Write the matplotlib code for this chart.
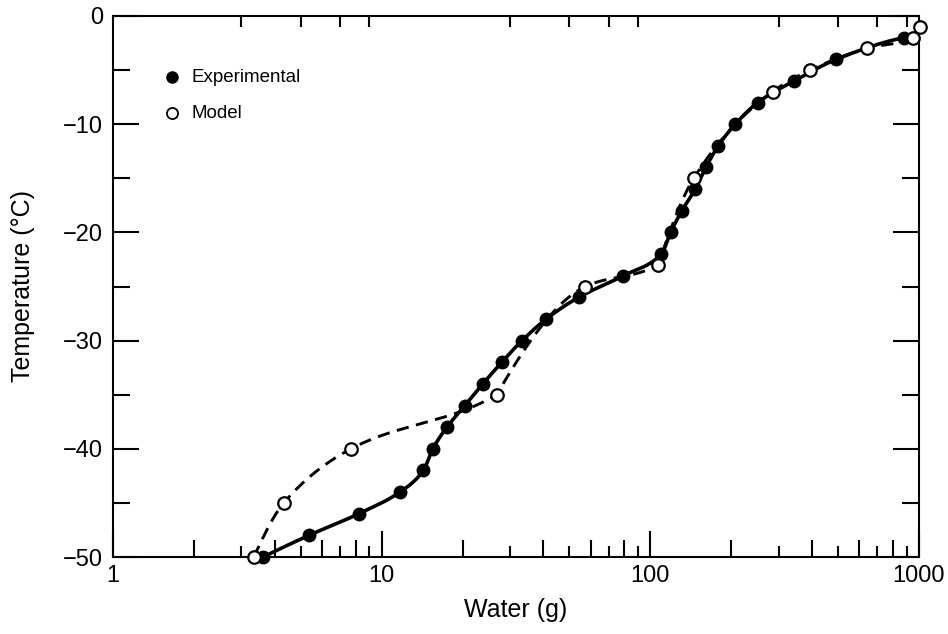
import numpy as np
import matplotlib
matplotlib.use("Agg")
import matplotlib.pyplot as plt
from matplotlib.ticker import FixedLocator, NullFormatter, FixedFormatter

# ---- data ----
exp_water = [3.62, 5.36, 8.23, 11.7, 14.3, 15.5, 17.5, 20.4, 23.8, 28.0, 33.3, 41.0,
             54.1, 79.4, 110, 119, 131, 147, 161, 179, 207, 251, 343, 493, 877]
exp_temp = [-50, -48, -46, -44, -42, -40, -38, -36, -34, -32, -30, -28,
            -26, -24, -22, -20, -18, -16, -14, -12, -10, -8, -6, -4, -2]
mod_water = [3.34, 4.32, 7.69, 26.8, 57.3, 106.7, 145, 285, 393, 638, 952, 1006]
mod_temp = [-50, -45, -40, -35, -25, -23, -15, -7, -5, -3, -2, -1]
mod_corners = [3, 5]   # indices where the dashed model curve bends sharply

x_ticks = [1, 10, 100, 1000]
x_ticklabels = ["1", "10", "100", "1000"]
y_ticks = [0, -10, -20, -30, -40, -50]
y_ticklabels = ["0", "\u221210", "\u221220", "\u221230", "\u221240", "\u221250"]


def _end_slope(h0, h1, d0, d1):
    mm = ((2 * h0 + h1) * d0 - h0 * d1) / (h0 + h1)
    if np.sign(mm) != np.sign(d0):
        mm = 0
    elif np.sign(d0) != np.sign(d1) and abs(mm) > abs(3 * d0):
        mm = 3 * d0
    return mm


def pchip_slopes(x, y):
    h = np.diff(x); d = np.diff(y) / h
    n = len(x)
    m = np.zeros(n)
    for k in range(1, n - 1):
        if d[k - 1] * d[k] <= 0:
            m[k] = 0
        else:
            w1 = 2 * h[k] + h[k - 1]; w2 = h[k] + 2 * h[k - 1]
            m[k] = (w1 + w2) / (w1 / d[k - 1] + w2 / d[k])
    m[0] = _end_slope(h[0], h[1], d[0], d[1])
    m[-1] = _end_slope(h[-1], h[-2], d[-1], d[-2])
    return m, h, d


def hermite_curve(x, y, corners=(), npts=800):
    x = np.asarray(x, float); y = np.asarray(y, float)
    m, h, d = pchip_slopes(x, y)
    mL = m.copy(); mR = m.copy()
    for k in corners:
        if k + 2 < len(x):
            mR[k] = _end_slope(h[k], h[k + 1], d[k], d[k + 1])
    xn = np.linspace(x[0], x[-1], npts)
    idx = np.clip(np.searchsorted(x, xn) - 1, 0, len(x) - 2)
    t = (xn - x[idx]) / h[idx]
    h00 = 2 * t**3 - 3 * t**2 + 1; h10 = t**3 - 2 * t**2 + t
    h01 = -2 * t**3 + 3 * t**2; h11 = t**3 - t**2
    yn = h00 * y[idx] + h10 * h[idx] * mR[idx] + h01 * y[idx + 1] + h11 * h[idx] * mL[idx + 1]
    return xn, yn


plt.rcParams['font.family'] = ['Liberation Sans', 'DejaVu Sans']
fig = plt.figure(figsize=(9.48, 6.34), dpi=100)
ax = fig.add_axes([113 / 948, 1 - 557 / 634, (919 - 113) / 948, (557 - 16) / 634])

# smooth curves in log-x space
xs, ys = hermite_curve(np.log10(exp_water), exp_temp)
ax.plot(10**xs, ys, color='black', lw=2.6, zorder=2, solid_capstyle='round')
xm, ym = hermite_curve(np.log10(mod_water), mod_temp, corners=mod_corners)
ax.plot(10**xm, ym, color='black', lw=2.1, dashes=(4.2, 2.6), zorder=2,
        clip_on=False)

ax.plot(exp_water, exp_temp, 'o', ms=9, color='black', zorder=3, clip_on=False)
ax.plot(mod_water, mod_temp, 'o', ms=9, mfc='white', mec='black', mew=1.6,
        zorder=4, clip_on=False)

ax.set_xscale('log')
ax.set_xlim(1, 1000)
ax.set_ylim(-50, 0)

ax.xaxis.set_major_locator(FixedLocator(x_ticks))
ax.xaxis.set_major_formatter(FixedFormatter(x_ticklabels))
even_minor = [m * 10**e for e in range(3) for m in (2, 4, 6, 8)]
ax.xaxis.set_minor_locator(FixedLocator(even_minor))
ax.xaxis.set_minor_formatter(NullFormatter())

ax.yaxis.set_major_locator(FixedLocator(y_ticks))
ax.yaxis.set_major_formatter(FixedFormatter(y_ticklabels))
ax.yaxis.set_minor_locator(FixedLocator([-5, -15, -25, -35, -45]))

ax.tick_params(which='both', direction='in', top=True, right=True, width=1.5,
               labelsize=17)
ax.tick_params(which='major', length=19)
ax.tick_params(which='minor', length=12.5)
ax.tick_params(axis='x', which='major', pad=6)
ax.tick_params(axis='y', which='major', pad=7)

# third tick level (3,5,7,9) via twin axis
ax2 = ax.twiny()
ax2.set_xscale('log')
ax2.set_xlim(1, 1000)
odd_minor = [m * 10**e for e in range(3) for m in (3, 5, 7, 9)]
ax2.xaxis.set_major_locator(FixedLocator(odd_minor))
ax2.xaxis.set_major_formatter(NullFormatter())
ax2.xaxis.set_minor_locator(FixedLocator([]))
ax2.tick_params(which='both', direction='in', top=True, bottom=True, width=1.5,
                length=8, labeltop=False, labelbottom=False)
for s in ax2.spines.values():
    s.set_visible(False)

for s in ax.spines.values():
    s.set_linewidth(1.5)

ax.set_xlabel('Water (g)', fontsize=18, labelpad=8)
ax.set_ylabel('Temperature (\u00b0C)', fontsize=18, labelpad=20)

# legend (markers only)
ax.plot([0.073], [0.887], 'o', ms=8, color='black', transform=ax.transAxes)
ax.text(0.097, 0.887, 'Experimental', transform=ax.transAxes, fontsize=13.5,
        va='center', ha='left')
ax.plot([0.073], [0.82], 'o', ms=8, mfc='white', mec='black', mew=1.3,
        transform=ax.transAxes)
ax.text(0.097, 0.82, 'Model', transform=ax.transAxes, fontsize=13.5,
        va='center', ha='left')

fig.savefig('out.png', dpi=100)
